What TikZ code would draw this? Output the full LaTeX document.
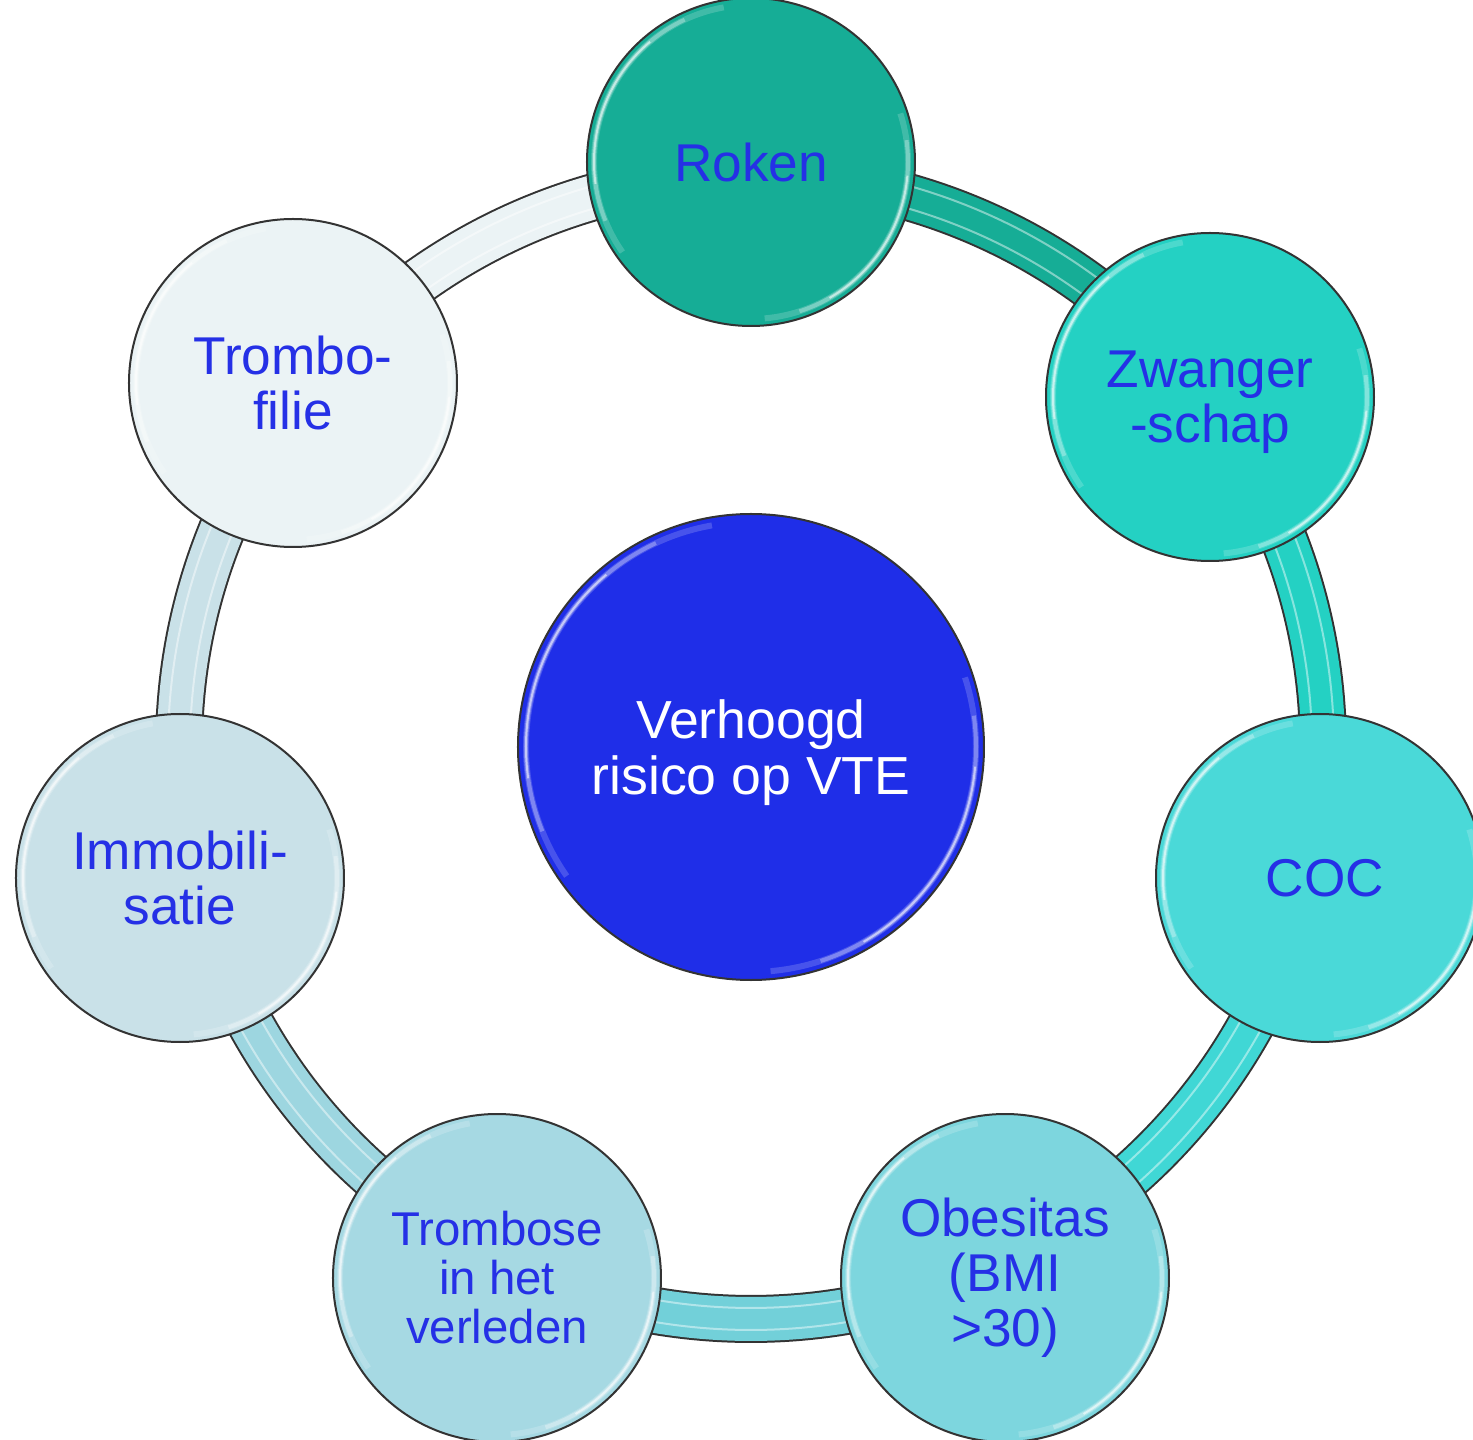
\documentclass[tikz,border=0pt]{standalone}
\usepackage{fontspec}
\setmainfont{Liberation Sans}
\begin{document}
\begin{tikzpicture}[x=0.5pt,y=0.5pt]
\definecolor{cRok}{HTML}{16AD96}
\definecolor{cZwa}{HTML}{24D1C3}
\definecolor{cCoc}{HTML}{4AD9D8}
\definecolor{cObe}{HTML}{7DD6DE}
\definecolor{cTrb}{HTML}{A6D9E3}
\definecolor{cImm}{HTML}{C9E1E8}
\definecolor{cTfl}{HTML}{EBF3F5}
\definecolor{bCoc}{HTML}{40D7D5}
\definecolor{bObe}{HTML}{72D0D9}
\definecolor{bTrb}{HTML}{9DD6E0}
\definecolor{cHub}{HTML}{1F2EE8}
\definecolor{txtblue}{HTML}{2530E6}
\definecolor{rim}{HTML}{333333}
\tikzset{
  gloss/.style={path picture={
     \foreach \sa/\ea/\lw/\op in {100/215/3/.18, 115/202/2/.3, 130/188/1/.55, -85/18/3/.18, -72/8/2/.3, -60/-5/1/.55}
       \draw[white,line width=\lw pt,opacity=\op] (path picture bounding box.center) ++(\sa:#1) arc[start angle=\sa,end angle=\ea,radius=#1];
  }},
  risk/.style={circle, draw=rim, line width=1pt, minimum size=164pt, inner sep=0pt,
    align=center, text=txtblue, font=\fontsize{26.6}{27.5}\selectfont, fill=#1, gloss=157},
  hub/.style={circle, draw=rim, line width=1pt, minimum size=233pt, inner sep=0pt,
    fill=cHub, gloss=225},
  hubtext/.style={align=center, text=white, font=\fontsize{26.8}{28}\selectfont},
  bandout/.style={draw=rim, line width=24pt},
  bandin/.style={draw=#1, line width=22pt},
  bandhl/.style={draw=white, line width=1pt, opacity=.45},
}
\useasboundingbox (-751,-693) rectangle (722,747);
% ring band
\foreach \s/\e in {90/37.3, 37.3/-13, -13/-64.4, -64.4/-115.6, -115.6/-167.1, 192.9/141.5, 141.5/90}
  \draw[bandout] (\s:572) arc[start angle=\s, end angle=\e, radius=572];
\foreach \s/\e/\c in {90/37.3/cRok, 37.3/-13/cZwa, -13/-64.4/bCoc, -64.4/-115.6/bObe, -115.6/-167.1/bTrb, 192.9/141.5/cImm, 141.5/90/cTfl}{
  \draw[bandin=\c] (\s:572) arc[start angle=\s, end angle=\e, radius=572];
  \draw[bandhl] (\s:583) arc[start angle=\s, end angle=\e, radius=583];
  \draw[bandhl] (\s:561) arc[start angle=\s, end angle=\e, radius=561];
}
% nodes
\node[risk=cRok] (roken) at (0,585) {Roken};
\node[risk=cZwa, label={[align=center, text=txtblue, font=\fontsize{26.6}{27.5}\selectfont, yshift=-2.5pt]center:{Zwanger\\-schap}}] (zwanger) at (459,350) {};
\node[risk=cCoc] (coc) at (569,-131) {\hspace*{5pt}COC};
\node[risk=cObe] (obesitas) at (254,-531) {Obesitas\\(BMI\\>30)};
\node[risk=cTrb, font=\fontsize{23.7}{24.5}\selectfont] (trombose) at (-254,-531) {Trombose\\in het\\verleden};
\node[risk=cImm] (immob) at (-571,-131) {Immobili-\\satie};
\node[risk=cTfl] (trombofilie) at (-458,364) {Trombo-\\filie};
\node[hub, label={[hubtext, yshift=-3pt]center:{Verhoogd\\risico op VTE}}] (vte) at (0,0) {};
\end{tikzpicture}
\end{document}
